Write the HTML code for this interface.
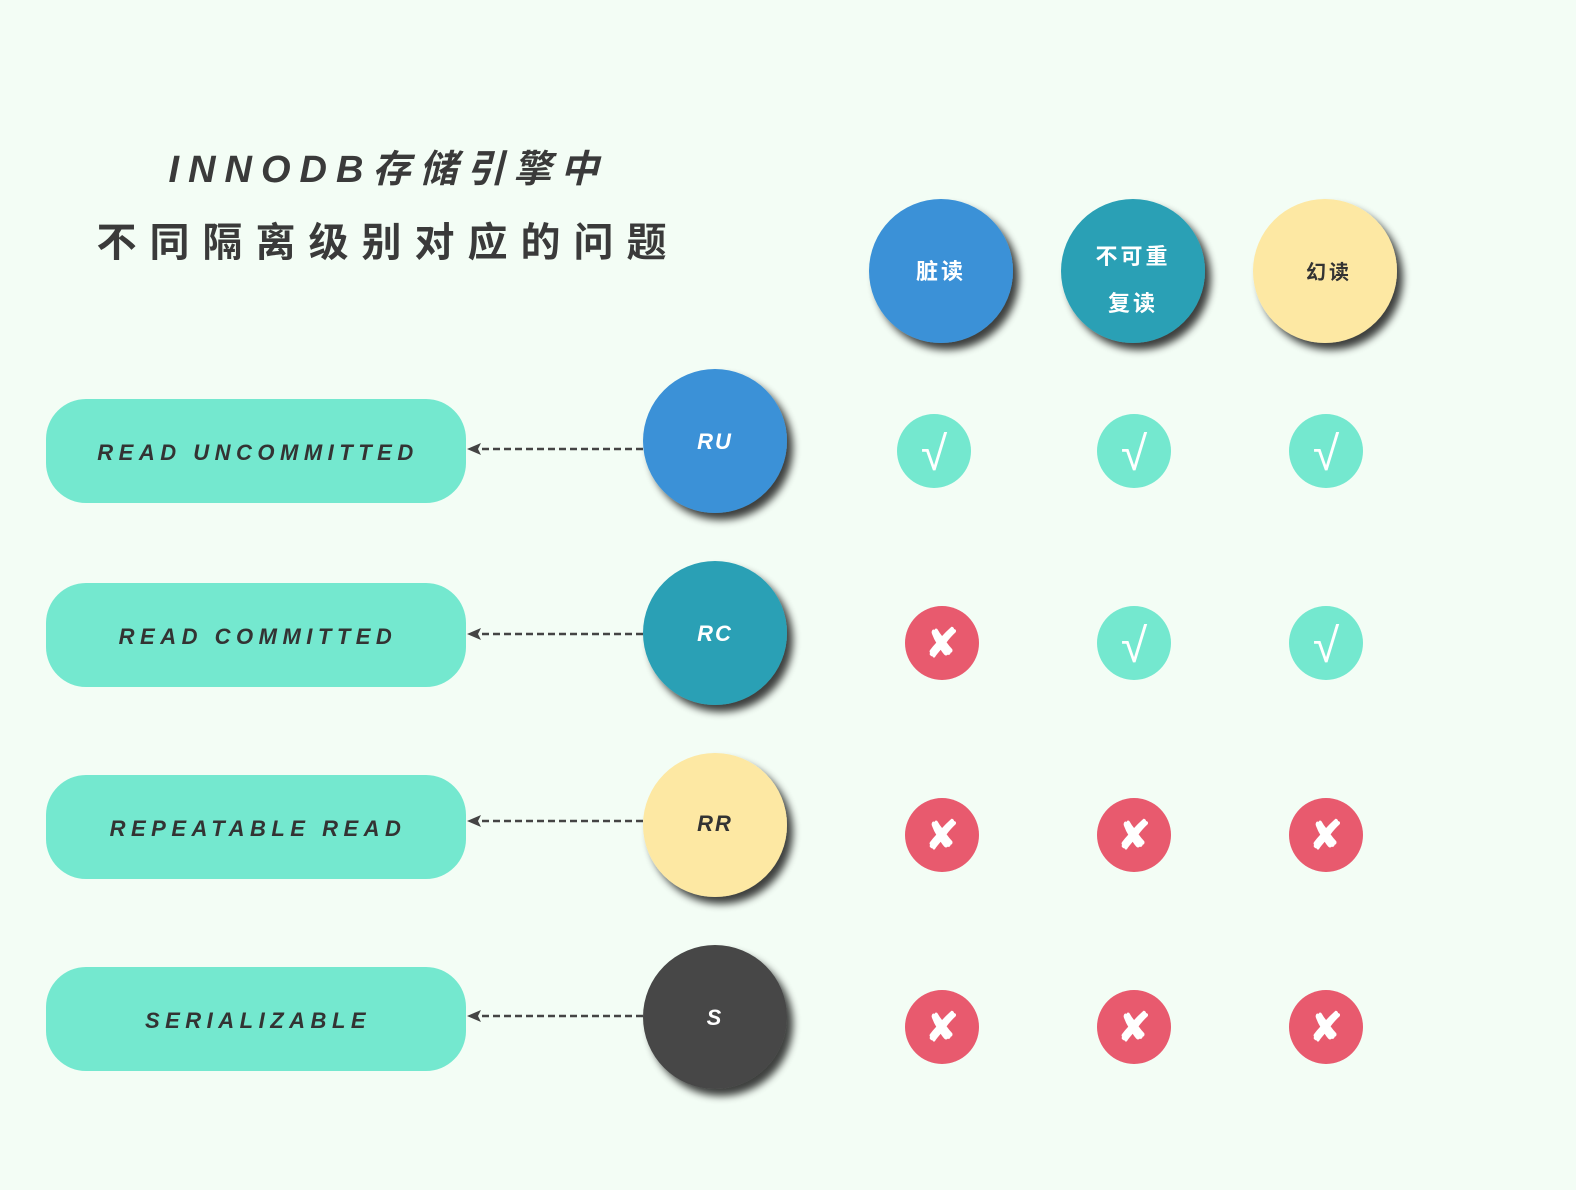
<!DOCTYPE html>
<html><head><meta charset="utf-8"><style>
html,body{margin:0;padding:0;background:#f3fdf5;}
svg{display:block;}
text{font-family:"Liberation Sans","Noto Sans CJK SC",sans-serif;}
</style></head><body>
<svg width="1576" height="1190" viewBox="0 0 1576 1190">
<defs>
<filter id="sh" x="-30%" y="-30%" width="170%" height="170%">
<feGaussianBlur in="SourceAlpha" stdDeviation="4"/>
<feOffset dx="6" dy="7" result="o"/>
<feComponentTransfer><feFuncA type="linear" slope="0.75"/></feComponentTransfer>
<feMerge><feMergeNode/><feMergeNode in="SourceGraphic"/></feMerge>
</filter>
</defs>
<rect width="1576" height="1190" fill="#f3fdf5"/>
<text x="388" y="182" text-anchor="middle" font-size="38" font-style="italic" font-weight="bold" fill="#3a3a3a" letter-spacing="9">INNODB存储引擎中</text>
<text x="388" y="256" text-anchor="middle" font-size="40" font-weight="bold" fill="#3a3a3a" letter-spacing="13">不同隔离级别对应的问题</text>

<g filter="url(#sh)">
<circle cx="941" cy="271" r="72" fill="#3a91d7"/>
<circle cx="1133" cy="271" r="72" fill="#2ba0b5"/>
<circle cx="1325" cy="271" r="72" fill="#fde8a3"/>
<circle cx="715" cy="441" r="72" fill="#3a91d7"/>
<circle cx="715" cy="633" r="72" fill="#2ba0b5"/>
<circle cx="715" cy="825" r="72" fill="#fde8a3"/>
<circle cx="715" cy="1017" r="72" fill="#474747"/>
</g>
<text x="941" y="279" text-anchor="middle" font-size="22" font-weight="bold" fill="#fff" letter-spacing="3">脏读</text>
<text x="1133" y="264" text-anchor="middle" font-size="22" font-weight="bold" fill="#fff" letter-spacing="3">不可重</text>
<text x="1133" y="311" text-anchor="middle" font-size="22" font-weight="bold" fill="#fff" letter-spacing="3">复读</text>
<text x="1329" y="279" text-anchor="middle" font-size="20" font-weight="bold" fill="#333" letter-spacing="3">幻读</text>
<g font-size="22" font-weight="bold" font-style="italic" text-anchor="middle" letter-spacing="2">
<text x="715" y="449" fill="#fff">RU</text>
<text x="715" y="641" fill="#fff">RC</text>
<text x="715" y="831" fill="#333">RR</text>
<text x="715" y="1025" fill="#fff">S</text>
</g>

<g fill="#74e8cf">
<rect x="46" y="399" width="420" height="104" rx="40"/>
<rect x="46" y="583" width="420" height="104" rx="40"/>
<rect x="46" y="775" width="420" height="104" rx="40"/>
<rect x="46" y="967" width="420" height="104" rx="40"/>
</g>
<g font-size="22" font-weight="bold" font-style="italic" fill="#333" text-anchor="middle" letter-spacing="5.5">
<text x="258" y="460">READ UNCOMMITTED</text>
<text x="258" y="644">READ COMMITTED</text>
<text x="258" y="836">REPEATABLE READ</text>
<text x="258" y="1028">SERIALIZABLE</text>
</g>
<g stroke="#444" stroke-width="2.5" stroke-dasharray="7,4">
<line x1="643" y1="449" x2="478" y2="449"/>
<line x1="643" y1="634" x2="478" y2="634"/>
<line x1="643" y1="821" x2="478" y2="821"/>
<line x1="643" y1="1016" x2="478" y2="1016"/>
</g>
<g fill="#444">
<path d="M467,449 L481,443 L478,449 L481,455 Z"/>
<path d="M467,634 L481,628 L478,634 L481,640 Z"/>
<path d="M467,821 L481,815 L478,821 L481,827 Z"/>
<path d="M467,1016 L481,1010 L478,1016 L481,1022 Z"/>
</g>

<g>
<circle cx="934" cy="451" r="37" fill="#74e8cf"/>
<circle cx="1134" cy="451" r="37" fill="#74e8cf"/>
<circle cx="1326" cy="451" r="37" fill="#74e8cf"/>
<circle cx="1134" cy="643" r="37" fill="#74e8cf"/>
<circle cx="1326" cy="643" r="37" fill="#74e8cf"/>
</g>
<g fill="#fff" font-size="48" text-anchor="middle" font-family="Liberation Serif,serif">
<text x="934" y="470">√</text>
<text x="1134" y="470">√</text>
<text x="1326" y="470">√</text>
<text x="1134" y="662">√</text>
<text x="1326" y="662">√</text>
</g>
<g fill="#e85a6e">
<circle cx="942" cy="643" r="37"/>
<circle cx="942" cy="835" r="37"/><circle cx="1134" cy="835" r="37"/><circle cx="1326" cy="835" r="37"/>
<circle cx="942" cy="1027" r="37"/><circle cx="1134" cy="1027" r="37"/><circle cx="1326" cy="1027" r="37"/>
</g>
<g fill="#fff" font-size="40" font-weight="bold" text-anchor="middle" font-family="DejaVu Sans,sans-serif">
<text x="942" y="657">✘</text>
<text x="942" y="849">✘</text><text x="1134" y="849">✘</text><text x="1326" y="849">✘</text>
<text x="942" y="1041">✘</text><text x="1134" y="1041">✘</text><text x="1326" y="1041">✘</text>
</g>
</svg>
</body></html>
